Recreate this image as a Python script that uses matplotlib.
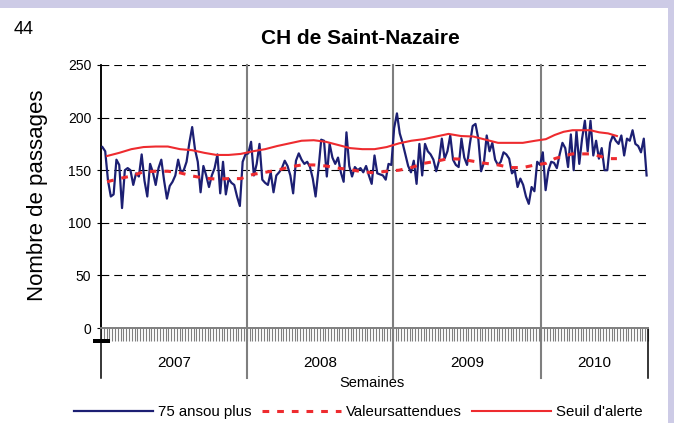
"""
CH de Saint-Nazaire - passages aux urgences des 75 ans ou plus,
valeurs attendues et seuil d'alerte par semaine (2007-2010).
"""

import numpy as np
import matplotlib.pyplot as plt
from matplotlib.patches import Rectangle

plt.rcParams['font.family'] = ['Liberation Sans', 'DejaVu Sans']

# Data
years = ['2007', '2008', '2009', '2010']
weeks_per_year = [52, 52, 53, 38]

passages_2007 = [172, 168, 140, 125, 127, 160, 155, 114, 150, 152, 150, 136, 147,
                 144, 165, 140, 125, 156, 148, 136, 152, 160, 140, 123, 135, 139,
                 145, 160, 148, 150, 158, 176, 191, 170, 158, 129, 154, 145, 134,
                 145, 152, 165, 128, 158, 127, 142, 138, 136, 125, 116, 158, 165]
passages_2008 = [166, 177, 145, 156, 175, 141, 138, 136, 148, 129, 145, 148, 152,
                 159, 154, 145, 128, 159, 166, 160, 156, 158, 153, 142, 125, 150,
                 179, 178, 144, 175, 162, 156, 162, 148, 139, 186, 154, 144, 153,
                 150, 152, 148, 154, 145, 137, 164, 147, 146, 145, 141, 156, 155]
passages_2009 = [190, 204, 185, 176, 165, 154, 148, 159, 137, 175, 145, 175, 168,
                 165, 160, 149, 159, 180, 161, 168, 183, 160, 155, 153, 180, 162,
                 155, 175, 192, 194, 180, 149, 157, 183, 168, 176, 160, 155, 158,
                 167, 165, 161, 147, 150, 134, 142, 136, 125, 118, 134, 130, 158, 155]
passages_2010 = [167, 131, 150, 158, 157, 152, 165, 176, 171, 153, 184, 150, 187,
                 156, 180, 197, 168, 197, 164, 178, 161, 171, 150, 150, 176, 183,
                 178, 175, 183, 164, 180, 178, 188, 175, 173, 167, 180, 145]

# monthly expected values and alert threshold
attendu_2007 = [139, 142, 144.5, 148.5, 149, 149, 147.5, 144.5, 142.5, 141.5, 142, 142]
attendu_2008 = [146, 148, 150, 153, 155, 155, 154, 152, 150.5, 148.5, 147.5, 149]
attendu_2009 = [150, 152.5, 156.5, 158.5, 161, 160.5, 158.5, 156.5, 155, 152.5, 152.5, 155]
attendu_2010 = [156.5, 161, 163.5, 165.5, 165.5, 165.5, 163.5, 161, 161]

seuil_2007 = [163.5, 166.5, 170, 172, 172.5, 172.5, 170, 169, 166.5, 164.5, 164.5, 165.5]
seuil_2008 = [168, 170, 173, 175.5, 178, 178.5, 177, 174, 171, 170, 170, 172]
seuil_2009 = [175.5, 178, 179.5, 182, 184.5, 182.5, 182, 179, 176, 176, 176, 178]
seuil_2010 = [179.5, 183.5, 186.5, 188, 188, 188, 186, 185, 182.5]

BLUE = '#1c1f73'
RED = '#ee2b2f'
GREY = '#7f7f7f'

# x positions in weeks
starts = np.concatenate([[0], np.cumsum(weeks_per_year)])
passages = passages_2007 + passages_2008 + passages_2009 + passages_2010
x_weeks = np.arange(len(passages)) + 0.5

attendus = [attendu_2007, attendu_2008, attendu_2009, attendu_2010]
seuils = [seuil_2007, seuil_2008, seuil_2009, seuil_2010]
x_months = []
for start, n_weeks, vals in zip(starts[:-1], weeks_per_year, attendus):
    x_months += [start + (m + 0.5) * n_weeks / 12 for m in range(len(vals))]
attendu = sum(attendus, [])
seuil = sum(seuils, [])

fig = plt.figure(figsize=(6.74, 4.23), dpi=100, facecolor='#cdcbe6')
fig.patches.append(Rectangle((0, 0), 668 / 674, 1 - 8 / 423, transform=fig.transFigure,
                             facecolor='white', edgecolor='none', zorder=-10))
ax = fig.add_axes([101 / 674, 1 - 328 / 423, 547 / 674, 263 / 423])

ax.plot(x_weeks, passages, color=BLUE, lw=1.6, zorder=3, label='75 ansou plus')
ax.plot(x_months, attendu, color=RED, lw=2.2, ls=(0, (2.2, 2.6)), zorder=4,
        label='Valeursattendues')
ax.plot(x_months, seuil, color=RED, lw=1.5, zorder=4, label="Seuil d'alerte")

ax.set_xlim(0, starts[-1])
ax.set_ylim(0, 250)
ax.set_yticks(range(0, 251, 50))
ax.yaxis.grid(True, color='black', lw=0.8, ls=(0, (7, 4.5)))
ax.set_axisbelow(True)
ax.tick_params(axis='y', length=3, width=0.8, labelsize=10, pad=4)

# weekly ticks under the axis
ax.set_xticks(np.arange(0, starts[-1] + 1))
ax.tick_params(axis='x', length=9.5, width=0.8, color=GREY, labelbottom=False)

for side in ['top', 'right']:
    ax.spines[side].set_visible(False)
ax.spines['left'].set_color('black')
ax.spines['left'].set_linewidth(1.1)
ax.spines['bottom'].set_color(GREY)
ax.spines['bottom'].set_linewidth(1.4)

# year separators and labels
drop = -50 / 263
ax.axvline(0, ymin=drop, ymax=1, color='black', lw=1.1, clip_on=False)
for s in starts[1:-1]:
    ax.axvline(s, ymin=drop, ymax=1, color=GREY, lw=1.5, clip_on=False, zorder=2)
ax.axvline(starts[-1], ymin=drop, ymax=0, color='black', lw=1.1, clip_on=False)
for i, year in enumerate(years):
    mid = (starts[i] + starts[i + 1]) / 2
    ax.text(mid, -35 / 263 * 250, year, ha='center', va='center', fontsize=11)
ax.text(0.495, -55 / 263, 'Semaines', transform=ax.transAxes, ha='center',
        va='center', fontsize=10.5)

fig.patches.append(Rectangle((93 / 674, 1 - 343 / 423), 17 / 674, 4 / 423,
                             transform=fig.transFigure, facecolor='black',
                             edgecolor='none'))

fig.text(24 / 674, 1 - 29 / 423, '44', ha='center', va='center', fontsize=13)
fig.text(360 / 674, 1 - 39 / 423, 'CH de Saint-Nazaire', ha='center', va='center',
         fontsize=15, fontweight='bold')
fig.text(38 / 674, 1 - 195 / 423, 'Nombre de passages', rotation=90, ha='center',
         va='center', fontsize=16)

fig.legend(loc='center', bbox_to_anchor=(358 / 674, 1 - 412 / 423), ncol=3,
           frameon=False, fontsize=10.8, handlelength=5.3, handletextpad=0.3,
           columnspacing=0.7, borderpad=0, borderaxespad=0)

plt.savefig('out.png', dpi=100, facecolor=fig.get_facecolor())
plt.close()
